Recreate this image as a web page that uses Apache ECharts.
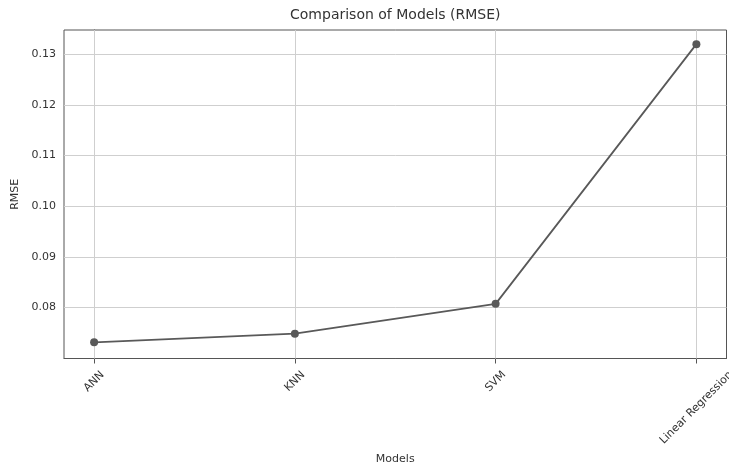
<!DOCTYPE html>
<html>
<head>
<meta charset="utf-8">
<script src="https://cdn.jsdelivr.net/npm/echarts@6/dist/echarts.min.js"></script>
<style>html,body{margin:0;padding:0;background:#fff;overflow:hidden}#c{width:729px;height:467px}</style>
</head>
<body>
<div id="c"></div>
<script>
// ---- data ----
const categories = ['ANN', 'KNN', 'SVM', 'Linear Regression'];
const rmseValues = [0.0731, 0.0748, 0.0807, 0.1320];
const yTicks = [0.08, 0.09, 0.10, 0.11, 0.12, 0.13];
const yRange = [0.0699, 0.1348];
const xRange = [-0.15, 3.15];
const titleText = 'Comparison of Models (RMSE)';
const xName = 'Models';
const yName = 'RMSE';

const FONT = 'DejaVu Sans';
const TXT = '#333';
const LINE = '#595959';

const grid = {left: 64, right: 2.5, top: 30, bottom: 108.5};
const plotCenterX = grid.left + (729 - grid.left - grid.right) / 2;

const cv = document.createElement('canvas').getContext('2d');
function textW(t, size) { cv.font = size + 'px "' + FONT + '"'; return cv.measureText(t).width; }

// rich styles that centre each 45° label under its tick (matplotlib style)
const rich = {};
categories.forEach((c, i) => {
  const L = textW(c, 11);
  const d = (L + 10) * 0.3536;
  const p = 1.4142 * d;
  rich['l' + i] = {fontFamily: FONT, fontSize: 11, color: TXT, padding: [p, p, 0, 0]};
});

const titleW = textW(titleText, 14);

const chart = echarts.init(document.getElementById('c'), null, {renderer: 'canvas', width: 729, height: 467});
chart.setOption({
  animation: false,
  backgroundColor: '#fff',
  title: {
    text: titleText,
    left: plotCenterX - titleW / 2 - 5,
    top: 3,
    textStyle: {fontFamily: FONT, fontSize: 14, fontWeight: 'normal', color: TXT}
  },
  grid: Object.assign({show: true, borderColor: '#555', borderWidth: 1, backgroundColor: 'transparent',
    containLabel: false, outerBoundsMode: 'none'}, grid),
  xAxis: {
    type: 'value',
    min: xRange[0], max: xRange[1],
    name: xName, nameLocation: 'middle', nameGap: 95,
    nameTextStyle: {fontFamily: FONT, fontSize: 11, color: TXT},
    axisLine: {show: true, lineStyle: {color: '#555', width: 1}},
    axisTick: {show: true, customValues: [0, 1, 2, 3], length: 5, lineStyle: {color: '#555'}},
    axisLabel: {
      customValues: [0, 1, 2, 3],
      rotate: 45, margin: 11, align: 'center', verticalAlign: 'middle',
      formatter: v => { const i = Math.round(v); return '{l' + i + '|' + categories[i] + '}'; },
      rich: rich
    },
    splitLine: {show: false}
  },
  yAxis: {
    type: 'value',
    min: yRange[0], max: yRange[1],
    name: yName, nameLocation: 'middle', nameGap: 40, nameRotate: 90,
    nameTextStyle: {fontFamily: FONT, fontSize: 11, color: TXT},
    axisLine: {show: true, lineStyle: {color: '#555', width: 1}},
    axisTick: {show: true, customValues: yTicks, length: 5, lineStyle: {color: '#555'}},
    axisLabel: {
      customValues: yTicks, margin: 8,
      fontFamily: FONT, fontSize: 11, color: TXT,
      formatter: v => v.toFixed(2)
    },
    splitLine: {show: false}
  },
  series: [
    {
      type: 'line',
      data: rmseValues.map((v, i) => [i, v]),
      symbol: 'circle', symbolSize: 8,
      lineStyle: {color: LINE, width: 1.8},
      itemStyle: {color: LINE},
      z: 5,
      markLine: {
        silent: true, symbol: 'none', label: {show: false},
        lineStyle: {color: '#cfcfcf', width: 1, type: 'solid'},
        data: categories.map((c, i) => ({xAxis: i})).concat(yTicks.map(t => ({yAxis: t}))),
        z: 1
      }
    }
  ]
});
</script>
</body>
</html>
